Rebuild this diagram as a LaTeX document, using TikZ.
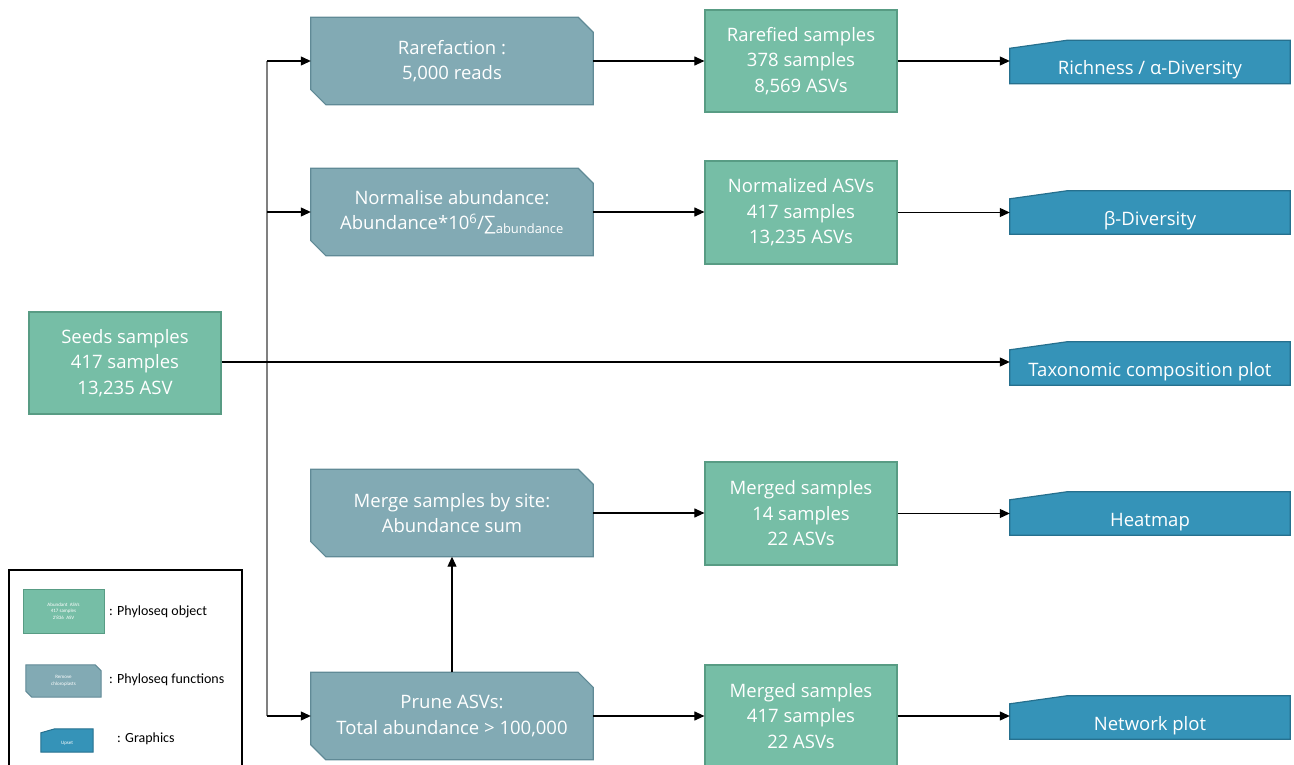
\documentclass[tikz,border=0pt]{standalone}
\usepackage{fontspec}
\setmainfont{Open Sans}
\newfontfamily\legendfont{Carlito}
\usetikzlibrary{arrows.meta,backgrounds}

\definecolor{objfill}{RGB}{118,190,166}
\definecolor{objline}{RGB}{88,156,132}
\definecolor{fnfill}{RGB}{130,170,180}
\definecolor{fnline}{RGB}{96,138,150}
\definecolor{grfill}{RGB}{53,147,184}
\definecolor{grline}{RGB}{38,112,142}
\definecolor{trunkgray}{RGB}{128,128,128}

\newcommand{\mainsize}{\fontsize{18.5}{25.5}\selectfont}
\newcommand{\tinysize}{\legendfont\fontsize{5}{6.5}\selectfont}

\begin{document}
\begin{tikzpicture}[x=1pt,y=-1pt,
  obj/.style={draw=objline, fill=objfill, line width=1.2pt, text=white,
    minimum width=192pt, minimum height=102pt, align=center,
    font=\mainsize, inner sep=0pt},
  fn/.style={text=white, minimum width=282pt, minimum height=87pt,
    align=center, font=\mainsize, inner sep=0pt},
  gr/.style={text=white, minimum width=280pt, minimum height=35pt,
    align=center, font=\mainsize, inner sep=0pt, text height=20pt, text depth=2pt},
  fnshape/.style={draw=fnline, fill=fnfill, line width=1.2pt},
  grshape/.style={draw=grline, fill=grfill, line width=1.2pt},
  arr/.style={draw=black, line width=1.1pt, -{Triangle[length=10pt,width=9pt]}},
  trunk/.style={draw=trunkgray, line width=1.6pt},
  legtext/.style={anchor=west, font=\legendfont\fontsize{14}{16}\selectfont, inner sep=0pt}
]
\clip (0,0) rectangle (1294,765);
\useasboundingbox (0,0) rectangle (1294,765);

% Phyloseq objects
\node[obj] (seeds) at (125,363) {Seeds samples\\417 samples\\13,235 ASV};
\node[obj] (rared) at (801,61) {Rarefied samples\\378 samples\\8,569 ASVs};
\node[obj, minimum height=103pt] (normd) at (801,212.5) {Normalized ASVs\\417 samples\\13,235 ASVs};
\node[obj, minimum height=103pt] (mergd) at (801,513.5) {Merged samples\\14 samples\\22 ASVs};
\node[obj] (prund) at (801,716) {Merged samples\\417 samples\\22 ASVs};

% Phyloseq functions
\node[fn] (rare) at (452,61) {Rarefaction :\\5,000 reads};
\node[fn] (norm) at (452,212) {Normalise abundance:\\Abundance*10\textsuperscript{6}/∑\textsubscript{abundance}};
\node[fn] (merge) at (452,513) {Merge samples by site:\\Abundance sum};
\node[fn] (prune) at (452,716) {Prune ASVs:\\Total abundance > 100,000};

% Graphics
\node[gr] (rich) at (1150,66) {Richness / α-Diversity};
\node[gr] (beta) at (1150,216.5) {β-Diversity};
\node[gr] (tax) at (1150,367.5) {Taxonomic composition plot};
\node[gr] (heat) at (1150,517.5) {Heatmap};
\node[gr] (net) at (1150,721.5) {Network plot};

% Legend
\draw[black, line width=1.4pt] (9,570) rectangle (242,770);
\node[obj, minimum width=81pt, minimum height=44pt, font=\tinysize, line width=1pt] (lobj) at (63.5,611) {Abundant\ \ ASVs\\417 samples\\2'836\ \ ASV};
\node[fn, minimum width=75pt, minimum height=32pt, font=\tinysize] (lfn) at (63.5,681) {Remove\\chloroplasts};
\node[gr, minimum width=52pt, minimum height=19pt, font=\tinysize, text height=4pt, text depth=1pt] (lgr) at (67,742.5) {Upset};
\node[legtext] (lobjt) at (109,612) {: Phyloseq object};
\node[legtext] (lfnt) at (109,680) {: Phyloseq functions};
\node[legtext] (lgrt) at (117,739) {: Graphics};

% Shape outlines behind the function and graphics texts
\begin{scope}[on background layer]
  \foreach \n in {rare,norm,merge,prune}
    \draw[fnshape] (\n.north west) -- ([xshift=-15pt]\n.north east)
      -- ([yshift=-15pt]\n.north east) -- (\n.south east)
      -- ([xshift=15pt]\n.south west) -- ([yshift=15pt]\n.south west) -- cycle;
  \draw[fnshape, line width=1pt] (lfn.north west) -- ([xshift=-6pt]lfn.north east)
      -- ([yshift=-6pt]lfn.north east) -- (lfn.south east)
      -- ([xshift=6pt]lfn.south west) -- ([yshift=6pt]lfn.south west) -- cycle;
  \foreach \n in {rich,beta,tax,heat,net}
    \draw[grshape] (\n.south west) -- (\n.north west)
      -- ([xshift=57pt,yshift=8pt]\n.north west) -- ([yshift=8pt]\n.north east)
      -- (\n.south east) -- cycle;
  \draw[grshape, line width=1pt] (lgr.south west) -- (lgr.north west)
      -- ([xshift=14pt,yshift=4pt]lgr.north west) -- ([yshift=4pt]lgr.north east)
      -- (lgr.south east) -- cycle;
\end{scope}

% Connectors
\coordinate (split) at (267,362);
\draw[trunk] (split |- rare.west) -- (split |- prune.west);
\draw[arr] (split -| seeds.east) -- (split -| tax.west);
\foreach \f in {rare,norm,prune}
  \draw[arr] (split |- \f.west) -- (\f.west);
\draw[arr] (rare.east) -- (rare.east -| rared.west);
\draw[arr] (norm.east) -- (norm.east -| normd.west);
\draw[arr] (merge.east) -- (merge.east -| mergd.west);
\draw[arr] (prune.east) -- (prune.east -| prund.west);
\draw[arr] (prune.north) -- (merge.south);
\draw[arr] (rared.east) -- (rared.east -| rich.west);
\draw[arr] (normd.east) -- (normd.east -| beta.west);
\draw[arr] (mergd.east) -- (mergd.east -| heat.west);
\draw[arr] (prund.east) -- (prund.east -| net.west);
\end{tikzpicture}
\end{document}
